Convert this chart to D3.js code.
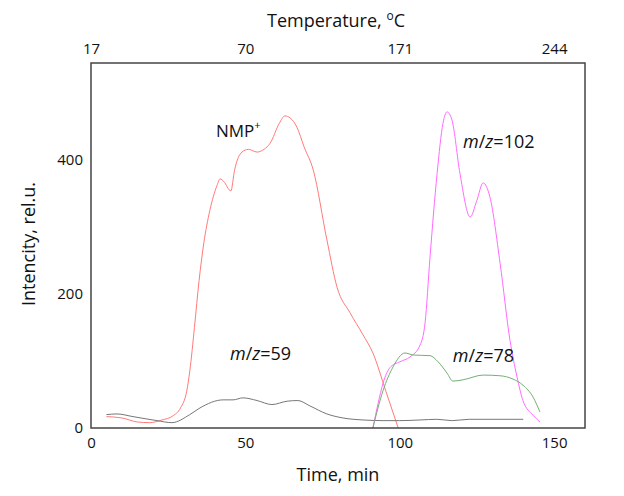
<!DOCTYPE html>
<html><head><meta charset="utf-8">
<script src="https://cdn.jsdelivr.net/npm/d3@7"></script>
<style>body{margin:0;background:#fff}text{font-family:"Open Sans",sans-serif;fill:#111}</style>
</head><body>
<svg id="c" width="624" height="496"></svg>
<script>
const timeTicks = [0, 50, 100, 150];
const tempLabels = ["17", "70", "171", "244"];
const yTicks = [0, 200, 400];

const nmp = [[5,17],[10,15],[15,9],[19,8],[23,12],[26.5,18],[29,30],[31,55],[32,85],[33.5,150],[35,220],[36.5,275],[38.5,325],[40.8,362],[41.8,372],[43,368],[45.3,354],[46.5,385],[48.9,412],[51,416],[53.8,412],[56,416],[58,425],[61,455],[62.8,466],[64.5,463],[66.7,449],[69,420],[72,385],[76.4,281],[79.7,210],[83.9,172],[88,140],[91.3,112],[95.5,55],[99.5,0]];
const mz59 = [[5,20],[8.4,21],[13.6,17],[21.4,11],[26.2,8],[32,20],[35.3,30],[42.8,42],[46,42],[49.2,45],[53.8,41],[58.6,35],[63.5,40],[67,41],[70.9,33],[76.4,21],[81.6,15],[88.1,12],[94.6,11],[100,11],[106.6,12],[112,13],[117,11],[122.5,13],[140,13]];
const mz102 = [[91.3,0],[93,37],[94.6,67],[96.8,90],[100.1,99],[103.3,106],[106.6,124],[108.2,157],[109.8,255],[112.1,380],[114,455],[115.3,472],[116.9,460],[119.5,380],[122.8,315],[125,340],[127,366],[129.2,345],[132.5,246],[135.7,131],[138,76],[139.9,41],[143.2,19],[145.4,9]];
const mz78 = [[91.3,0],[94.6,56],[97.8,91],[101.7,112],[104.3,109],[109.8,108],[112.4,99],[115.3,82],[117.2,70],[120.5,72],[127,79],[132.5,78],[136.7,73],[139.9,64],[143.2,46],[145.4,24]];

const W = 624, H = 496, m = {l:91, t:63, r:39, b:68};
const svg = d3.select("#c");
const x = d3.scaleLinear().domain([0,160]).range([m.l, W-m.r]);
const y = d3.scaleLinear().domain([0,545]).range([H-m.b, m.t]);

const line = d3.line().x(d=>x(d[0])).y(d=>y(d[1])).curve(d3.curveMonotoneX);
const series = [[nmp,"#ff7a7a"],[mz59,"#777"],[mz102,"#ff6bff"],[mz78,"#73b073"]];
series.forEach(([d,c])=>svg.append("path").datum(d).attr("d",line).attr("fill","none").attr("stroke",c).attr("stroke-width",1));

svg.append("rect").attr("x",m.l).attr("y",m.t).attr("width",W-m.l-m.r).attr("height",H-m.t-m.b)
  .attr("fill","none").attr("stroke","#444").attr("stroke-width",1.5);

const bx = d3.axisBottom(x).tickValues(timeTicks).tickSize(0).tickPadding(9);
const gb = svg.append("g").attr("transform",`translate(0,${H-m.b})`).call(bx);
const tx = d3.axisTop(x).tickValues(timeTicks).tickFormat((d,i)=>tempLabels[i]).tickSize(0).tickPadding(9);
const gt = svg.append("g").attr("transform",`translate(0,${m.t})`).call(tx);
const ly = d3.axisLeft(y).tickValues(yTicks).tickSize(0).tickPadding(8);
const gl = svg.append("g").attr("transform",`translate(${m.l},0)`).call(ly);
[gb,gt,gl].forEach(g=>{g.select(".domain").remove();g.selectAll("text").attr("font-size",15).attr("font-family","Open Sans").attr("fill","#111");});

svg.append("text").attr("x",338).attr("y",481).attr("text-anchor","middle").attr("font-size",18).text("Time, min");
const tt = svg.append("text").attr("x",336).attr("y",27).attr("text-anchor","middle").attr("font-size",18);
tt.append("tspan").text("Temperature, ");
tt.append("tspan").attr("font-size",12).attr("dy",-7).text("o");
tt.append("tspan").attr("dy",7).text("C");
svg.append("text").attr("transform","translate(35,244) rotate(-90)").attr("text-anchor","middle").attr("font-size",18).text("Intencity, rel.u.");

function lab(xp, yp, fs, parts){
  const t = svg.append("text").attr("x",xp).attr("y",yp).attr("font-size",fs);
  parts.forEach(p=>{const s=t.append("tspan").text(p.t); if(p.i) s.attr("font-style","italic"); if(p.sup) s.attr("font-size",11).attr("dy",-8);});
}
lab(x(40.5), y(435), 17, [{t:"NMP"},{t:"+",sup:true}]);
lab(x(45), y(101), 18, [{t:"m",i:true},{t:"/"},{t:"z",i:true},{t:"=59"}]);
lab(x(120.5), y(418), 18, [{t:"m",i:true},{t:"/"},{t:"z",i:true},{t:"=102"}]);
lab(x(117.2), y(98.5), 18, [{t:"m",i:true},{t:"/"},{t:"z",i:true},{t:"=78"}]);
</script>
</body></html>
